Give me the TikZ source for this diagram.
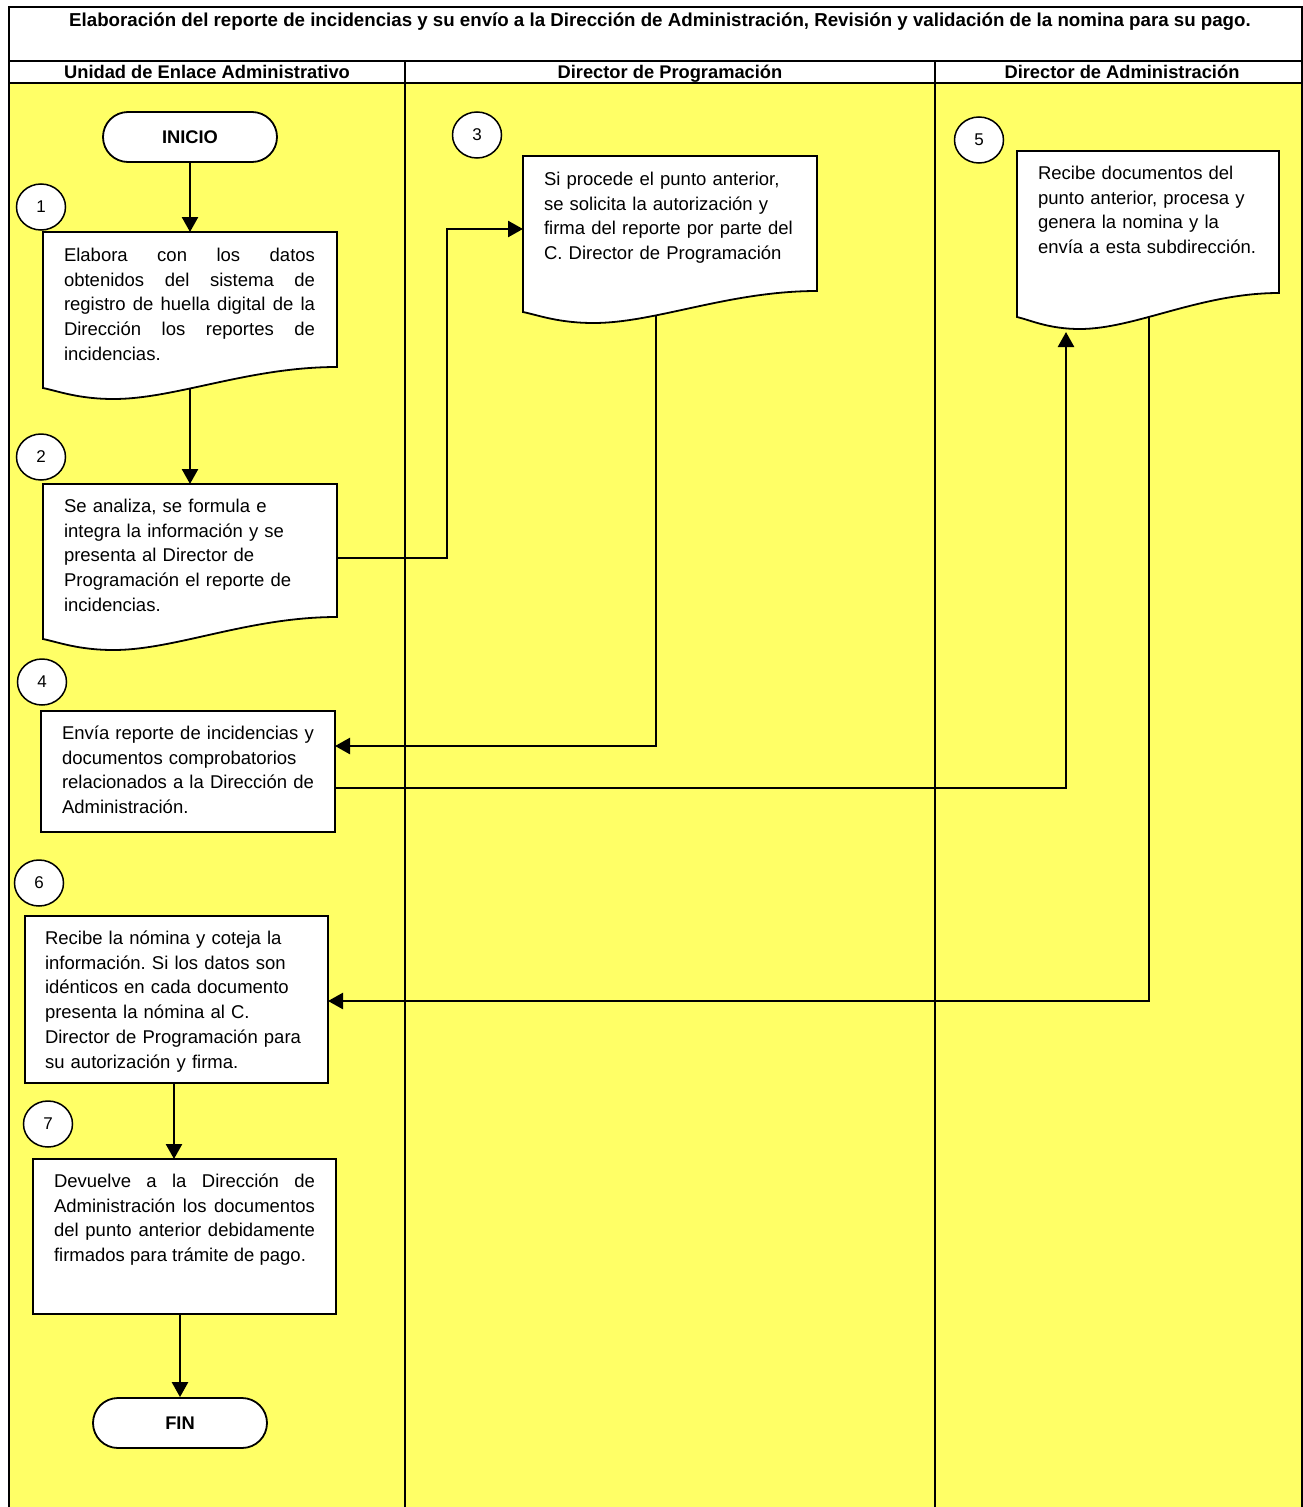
\documentclass[tikz,border=0pt]{standalone}
\usepackage{fontspec}
\setmainfont{Liberation Sans}
\usetikzlibrary{arrows.meta,shapes.geometric,calc}
\definecolor{laneyellow}{RGB}{255,255,102}
\pgfdeclarelayer{lanes}\pgfdeclarelayer{conns}\pgfdeclarelayer{shapes}
\pgfsetlayers{lanes,conns,shapes,main}
\frenchspacing
\newcommand\bodyfont{\fontsize{18.5}{24.7}\selectfont}
\newcommand\hdfont{\bfseries\fontsize{18.3}{21}\selectfont}
% L T R yR yL yLow
\newcommand\docshape[6]{%
 \draw[shapeline] (#1,#2) -- (#3,#2) -- (#3,#4)
   .. controls ({#3-0.3*(#3-#1)},#4) and ({#1+0.45*(#3-#1)},#6) .. ({#1+0.24*(#3-#1)},#6)
   .. controls ({#1+0.12*(#3-#1)},#6) and ({#1+0.05*(#3-#1)},{#5+3}) .. (#1,#5) -- cycle;}
\tikzset{
 shapeline/.style={draw=black, line width=1.8pt, fill=white},
 geo/.style={draw=none, inner sep=0pt, outer sep=0pt, anchor=north west},
 boxnode/.style={shapeline, rectangle, inner sep=0pt, outer sep=0pt, anchor=north west},
 txt/.style={inner sep=0pt, outer sep=0pt, anchor=north west, font=\bodyfont},
 numcirc/.style={ellipse, draw, line width=1.5pt, fill=white, minimum width=49pt, minimum height=46pt, inner sep=0pt, font=\fontsize{17}{20}\selectfont},
 term/.style={rectangle, rounded corners=25pt, draw, line width=1.8pt, fill=white, minimum width=174pt, minimum height=50pt, inner sep=0pt, font=\hdfont},
 conn/.style={line width=2.5pt},
 arr/.style={conn, -{Triangle[length=15pt,width=16pt]}},
 lanehead/.style={font=\hdfont, anchor=base, inner sep=0pt},
 frameline/.style={line width=2pt},
 laneline/.style={line width=1.6pt},
}
\begin{document}
\begin{tikzpicture}[x=1pt,y=-1pt]
\useasboundingbox (0,0) rectangle (1303,1507);
\begin{pgfonlayer}{lanes}
 \fill[white] (0,0) rectangle (1303,1507);
 \fill[laneyellow] (9,83) rectangle (1302,1507);
 \draw[frameline] (9,1507) -- (9,7) -- (1302,7) -- (1302,1507);
 \draw[frameline] (9,61) -- (1302,61);
 \draw[frameline] (9,83) -- (1302,83);
 \draw[laneline] (405,61) -- (405,1507);
 \draw[laneline] (935,61) -- (935,1507);
\end{pgfonlayer}
\node[lanehead, font=\bfseries\fontsize{18.7}{21}\selectfont] (title) at (660,26) {Elaboración del reporte de incidencias y su envío a la Dirección de Administración, Revisión y validación de la nomina para su pago.};
\node[lanehead] (h1) at (207,78) {Unidad de Enlace Administrativo};
\node[lanehead] (h2) at (670,78) {Director de Programación};
\node[lanehead] (h3) at (1122,78) {Director de Administración};

% shapes
\node[term] (inicio) at (190,137) {INICIO};
\node[term] (fin) at (180,1423) {FIN};
\node[numcirc] (n1) at (41,207) {1};
\node[numcirc] (n2) at (41,457) {2};
\node[numcirc] (n3) at (477,135) {3};
\node[numcirc] (n4) at (42,682) {4};
\node[numcirc] (n5) at (979,140) {5};
\node[numcirc] (n6) at (39,883) {6};
\node[numcirc] (n7) at (48,1124) {7};

\node[geo, minimum width=294, minimum height=135] (d1) at (43,232) {};
\node[geo, minimum width=294, minimum height=133] (d2) at (43,484) {};
\node[geo, minimum width=294, minimum height=135] (d3) at (523,156) {};
\node[geo, minimum width=262, minimum height=142] (d5) at (1017,151) {};
\begin{pgfonlayer}{shapes}
 \docshape{43}{232}{337}{367}{388}{399}
 \docshape{43}{484}{337}{617}{639}{650}
 \docshape{523}{156}{817}{291}{312}{323}
 \docshape{1017}{151}{1279}{293}{317}{329}
\end{pgfonlayer}

\node[boxnode, minimum width=294, minimum height=121] (b4) at (41,711) {};
\node[boxnode, minimum width=303, minimum height=167] (b6) at (25,916) {};
\node[boxnode, minimum width=303, minimum height=155] (b7) at (33,1159) {};

% texts
\node[txt, text width=251, align=justify] (t1) at (64,244.2) {\noindent\strut Elabora con los datos\linebreak obtenidos del sistema de\linebreak registro de huella digital de la\linebreak Dirección los reportes de\linebreak incidencias.};
\node[txt, text width=262, align=left] (t2) at (64,495.2) {\strut Se analiza, se formula e\\ integra la información y se\\ presenta al Director de\\ Programación el reporte de\\ incidencias.};
\node[txt, text width=262, align=left] (t3) at (544,168.2) {\strut Si procede el punto anterior,\\ se solicita la autorización y\\ firma del reporte por parte del\\ C. Director de Programación};
\node[txt, text width=270, align=left] (t4) at (62,722.2) {\strut Envía reporte de incidencias y\\ documentos comprobatorios\\ relacionados a la Dirección de\\ Administración.};
\node[txt, text width=238, align=left] (t5) at (1038,162.2) {\strut Recibe documentos del\\ punto anterior, procesa y\\ genera la nomina y la\\ envía a esta subdirección.};
\node[txt, text width=275, align=left] (t6) at (45,927.2) {\strut Recibe la nómina y coteja la\\ información. Si los datos son\\ idénticos en cada documento\\ presenta la nómina al C.\\ Director de Programación para\\ su autorización y firma.};
\node[txt, text width=261, align=justify] (t7) at (54,1170.2) {\noindent\strut Devuelve a la Dirección de\linebreak Administración los documentos\linebreak del punto anterior debidamente\linebreak firmados para trámite de pago.};

% connectors
\coordinate (k3a) at (337,558);
\coordinate (k3b) at (447,229);
\coordinate (k4) at (656,746);
\coordinate (k5a) at (335,788);
\coordinate (k5b) at (1066,332);
\coordinate (k6) at (1149,1001);
\coordinate (k7) at (174,1100);
\begin{pgfonlayer}{conns}
 \draw[arr] (inicio.south) -- (d1.north);
 \draw[arr] (d1.south) -- (d2.north);
 \draw[arr] (d2.east |- k3a) -| (k3b) -- (d3.west |- k3b);
 \draw[arr] (d3.south -| k4) -- (k4) -- (b4.east |- k4);
 \draw[arr] (b4.east |- k5a) -| (k5b);
 \draw[arr] (d5.south -| k6) -- (k6) -- (b6.east |- k6);
 \draw[arr] (b6.south -| k7) -- (b7.north -| k7);
 \draw[arr] (b7.south -| fin) -- (fin.north);
\end{pgfonlayer}
\end{tikzpicture}
\end{document}
